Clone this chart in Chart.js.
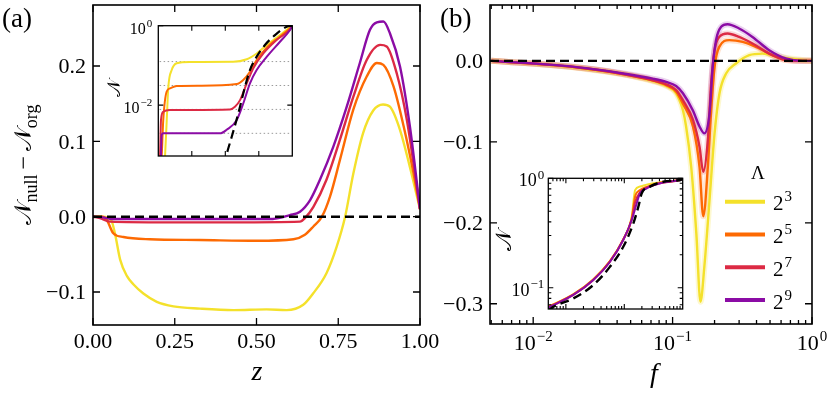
<!DOCTYPE html>
<html>
<head>
<meta charset="utf-8">
<script src="https://cdn.jsdelivr.net/npm/chart.js@4.4.1/dist/chart.umd.min.js"></script>
<style>
  body { margin: 0; background: #fff; }
  #wrap { position: relative; width: 830px; height: 394px; overflow: hidden; background: #fff; }
  canvas { position: absolute; }
</style>
</head>
<body>
<div id="wrap">
  <canvas id="mainA" width="445" height="394" style="left:0;top:0"></canvas>
  <canvas id="mainB" width="405" height="394" style="left:425px;top:0"></canvas>
  <canvas id="insetA" width="200" height="160" style="left:100px;top:10px"></canvas>
  <canvas id="insetB" width="210" height="160" style="left:480px;top:160px"></canvas>
</div>
<script>
// series: Lambda = 2^3, 2^5, 2^7, 2^9
const lambdaExp = ["3", "5", "7", "9"];
const colors = ["#f4e12b", "#fd6a03", "#dc2a44", "#8b0ca5"];
const bands = ["rgba(244,225,43,0.22)", "rgba(253,106,3,0.18)", "rgba(220,42,68,0.18)", "rgba(139,12,165,0.18)"];

// (a) N_null - N_org vs z
const aZ3 = [0, 0.03, 0.055, 0.067, 0.083, 0.104, 0.124, 0.154, 0.195, 0.246, 0.327, 0.429, 0.531, 0.592, 0.643, 0.673, 0.714, 0.745, 0.771, 0.796, 0.826, 0.857, 0.887, 0.908, 0.939, 0.969, 1.0];
const aD3 = [0, 0, -0.004, -0.022, -0.057, -0.079, -0.090, -0.102, -0.113, -0.119, -0.122, -0.124, -0.123, -0.124, -0.117, -0.102, -0.075, -0.040, 0, 0.057, 0.111, 0.141, 0.149, 0.146, 0.115, 0.066, 0.01];
const aZ5 = [0, 0.03, 0.042, 0.062, 0.093, 0.174, 0.327, 0.501, 0.613, 0.648, 0.674, 0.700, 0.725, 0.755, 0.796, 0.837, 0.868, 0.888, 0.919, 0.950, 0.980, 1.0];
const aD5 = [0, 0, -0.004, -0.022, -0.027, -0.030, -0.031, -0.032, -0.030, -0.024, -0.013, 0, 0.027, 0.075, 0.142, 0.186, 0.204, 0.2015, 0.173, 0.120, 0.058, 0.01];
const aZ7 = [0, 0.021, 0.052, 0.225, 0.429, 0.633, 0.648, 0.674, 0.714, 0.755, 0.796, 0.837, 0.878, 0.898, 0.929, 0.960, 1.0];
const aD7 = [0, -0.002, -0.0066, -0.0075, -0.0075, -0.0066, -0.002, 0.013, 0.049, 0.102, 0.159, 0.208, 0.228, 0.226, 0.190, 0.128, 0.01];
const aZ9 = [0, 0.03, 0.06, 0.3, 0.55, 0.602, 0.633, 0.664, 0.694, 0.735, 0.776, 0.816, 0.847, 0.868, 0.888, 0.908, 0.939, 0.969, 1.0];
const aD9 = [0, -0.001, -0.003, -0.003, -0.003, 0.002, 0.0066, 0.022, 0.049, 0.093, 0.146, 0.204, 0.248, 0.258, 0.259, 0.2435, 0.199, 0.120, 0.01];
const aXTicks = [0, 0.25, 0.5, 0.75, 1];
const aXLabels = ["0.00", "0.25", "0.50", "0.75", "1.00"];
const aYTicks = [-0.1, 0, 0.1, 0.2];
const aYLabels = ["\u22120.1", "0.0", "0.1", "0.2"];

// (a) inset: N vs z (log)
const iaZ3 = [0.045, 0.05, 0.063, 0.075, 0.1, 0.137, 0.236, 0.56, 0.66, 0.734, 0.81, 0.908, 0.983, 1.0];
const iaN3 = [0.0003, 0.0005, 0.0042, 0.029, 0.0766, 0.113, 0.122, 0.123, 0.143, 0.2, 0.327, 0.58, 0.91, 1.0];
const iaZ5 = [0.02, 0.025, 0.037, 0.062, 0.087, 0.137, 0.31, 0.585, 0.634, 0.684, 0.734, 0.81, 0.908, 0.983, 1.0];
const iaN5 = [0.0003, 0.0005, 0.0042, 0.0218, 0.0264, 0.0303, 0.031, 0.034, 0.043, 0.0695, 0.137, 0.285, 0.53, 0.86, 1.0];
const iaZ7 = [0.008, 0.0127, 0.02, 0.037, 0.087, 0.535, 0.572, 0.61, 0.66, 0.709, 0.784, 0.883, 0.983, 1.0];
const iaN7 = [0.0003, 0.0005, 0.0042, 0.0068, 0.0075, 0.0078, 0.0091, 0.0134, 0.0354, 0.0845, 0.2, 0.436, 0.81, 1.0];
const iaZ9 = [0.015, 0.02, 0.025, 0.037, 0.46, 0.51, 0.585, 0.634, 0.684, 0.734, 0.81, 0.908, 0.983, 1.0];
const iaN9 = [0.0003, 0.0005, 0.00177, 0.00195, 0.00195, 0.0024, 0.0042, 0.011, 0.0354, 0.0766, 0.166, 0.395, 0.78, 1.0];
const iaZorg = [0.49, 0.505, 0.548, 0.597, 0.647, 0.684, 0.734, 0.796, 0.871, 0.958, 1.0];
const iaNorg = [0.0003, 0.0005, 0.0016, 0.0062, 0.029, 0.0766, 0.166, 0.327, 0.58, 0.94, 1.0];
const iaLevels = [1 / 8, 1 / 32, 1 / 128, 1 / 512];
const iaLevelZ = [0.01, 0.985];
const iaXTicks = [0.25, 0.5, 0.75];
const iaYTicks = [0.01, 1];
const iaYLabels = ["10^\u22122", "10^0"];

// (b) N_null - N_org vs f
const bF3 = [0.005, 0.014, 0.024, 0.042, 0.072, 0.090, 0.106, 0.1186, 0.125, 0.136, 0.148, 0.1585, 0.169, 0.184, 0.2, 0.217, 0.242, 0.285, 0.355, 0.44, 0.58, 0.853, 1.0];
const bD3 = [0, -0.0055, -0.010, -0.016, -0.025, -0.031, -0.040, -0.061, -0.081, -0.131, -0.213, -0.2975, -0.254, -0.172, -0.0896, -0.040, -0.0156, -0.0032, 0.007, 0.009, 0.005, 0.001, 0];
const bF5 = [0.005, 0.014, 0.024, 0.042, 0.072, 0.090, 0.106, 0.1186, 0.14, 0.156, 0.166, 0.179, 0.189, 0.2, 0.216, 0.255, 0.318, 0.396, 0.52, 0.648, 0.853, 1.0];
const bD5 = [0, -0.0053, -0.0095, -0.0156, -0.024, -0.030, -0.038, -0.053, -0.081, -0.131, -0.192, -0.131, -0.061, -0.0074, 0.0173, 0.0256, 0.0235, 0.0173, 0.007, 0.001, 0, 0];
const bF7 = [0.005, 0.014, 0.024, 0.042, 0.072, 0.090, 0.106, 0.1186, 0.14, 0.156, 0.166, 0.179, 0.189, 0.2, 0.216, 0.248, 0.30, 0.374, 0.493, 0.648, 0.853, 1.0];
const bD7 = [0, -0.0053, -0.0095, -0.0156, -0.024, -0.029, -0.036, -0.0486, -0.073, -0.106, -0.137, -0.098, -0.028, 0.013, 0.0296, 0.0338, 0.0296, 0.0215, 0.009, 0.0012, 0, 0];
const bF9 = [0.005, 0.014, 0.024, 0.042, 0.072, 0.090, 0.106, 0.1186, 0.1396, 0.156, 0.169, 0.184, 0.194, 0.205, 0.223, 0.248, 0.30, 0.374, 0.493, 0.648, 0.853, 1.0];
const bD9 = [0, -0.005, -0.009, -0.015, -0.022, -0.026, -0.031, -0.040, -0.061, -0.081, -0.0896, -0.065, -0.0074, 0.0256, 0.042, 0.0453, 0.040, 0.0296, 0.0132, 0.003, 0, 0];
const bXTicks = [0.01, 0.1, 1];
const bXLabels = ["10^\u22122", "10^\u22121", "10^0"];
const bYTicks = [-0.3, -0.2, -0.1, 0];
const bYLabels = ["\u22120.3", "\u22120.2", "\u22120.1", "0.0"];

// (b) inset: N vs f (log-log)
const ibF3 = [0.005, 0.0134, 0.0295, 0.057, 0.096, 0.134, 0.153, 0.186, 0.25, 0.41, 0.9, 1.0];
const ibN3 = [0.067, 0.087, 0.12, 0.176, 0.278, 0.446, 0.78, 0.84, 0.88, 0.92, 0.965, 0.985];
const ibF5 = [0.005, 0.0134, 0.0295, 0.057, 0.096, 0.134, 0.153, 0.186, 0.25, 0.41, 0.9, 1.0];
const ibN5 = [0.067, 0.087, 0.119, 0.175, 0.276, 0.43, 0.68, 0.78, 0.84, 0.91, 0.965, 0.985];
const ibF7 = [0.005, 0.0134, 0.0295, 0.057, 0.096, 0.134, 0.153, 0.186, 0.242, 0.41, 0.9, 1.0];
const ibN7 = [0.066, 0.086, 0.118, 0.174, 0.275, 0.42, 0.6, 0.75, 0.82, 0.90, 0.965, 0.985];
const ibF9 = [0.005, 0.0134, 0.0295, 0.057, 0.096, 0.134, 0.163, 0.186, 0.242, 0.41, 0.9, 1.0];
const ibN9 = [0.066, 0.086, 0.118, 0.173, 0.273, 0.416, 0.59, 0.73, 0.81, 0.90, 0.965, 0.985];
const ibForg = [0.005, 0.0061, 0.0134, 0.0295, 0.057, 0.096, 0.143, 0.174, 0.199, 0.275, 0.466, 0.9, 1.0];
const ibNorg = [0.062, 0.067, 0.080, 0.106, 0.156, 0.237, 0.388, 0.55, 0.73, 0.84, 0.93, 0.965, 0.985];
const ibYTicks = [0.1, 1];
const ibYLabels = ["10^\u22121", "10^0"];

const SERIF = '"Liberation Serif", "Times New Roman", "DejaVu Serif", serif';
const CAL = '𝒩';

const logMinor = (lo, hi) => {
  const out = [];
  for (let d = 0.001; d < hi; d *= 10) {
    for (let k = 2; k <= 9; k++) {
      const v = k * d;
      if (v > lo * 1.001 && v < hi * 0.999) out.push(v);
    }
  }
  return out;
};

function drawTex(ctx, str, x, y, size, align, style) {
  const [base, sup] = str.split('^');
  const st = style ? style + ' ' : '';
  const f1 = st + size + 'px ' + SERIF;
  const f2 = st + Math.round(size * 0.7) + 'px ' + SERIF;
  ctx.font = f1;
  const wb = ctx.measureText(base).width;
  let ws = 0;
  if (sup) { ctx.font = f2; ws = ctx.measureText(sup).width + 1; }
  const w = wb + ws;
  const x0 = align === 'center' ? x - w / 2 : align === 'right' ? x - w : x;
  ctx.textAlign = 'left';
  ctx.textBaseline = 'alphabetic';
  ctx.font = f1;
  ctx.fillText(base, x0, y);
  if (sup) { ctx.font = f2; ctx.fillText(sup, x0 + wb + 1, y - size * 0.42); }
  return w;
}

// frame with inward ticks on all four sides, labels outside
function makeAxes(c) {
  return {
    id: 'axesBox',
    beforeDatasetsDraw(chart) {
      if (!c.fill) return;
      const { ctx, chartArea: a } = chart;
      ctx.save();
      ctx.fillStyle = c.fill;
      ctx.fillRect(a.left, a.top, a.width, a.height);
      ctx.restore();
    },
    afterDatasetsDraw(chart) {
      const { ctx, chartArea: a, scales: { x, y } } = chart;
      ctx.save();
      ctx.strokeStyle = '#000';
      ctx.fillStyle = '#000';
      ctx.lineWidth = c.tickWidth;
      ctx.beginPath();
      const xt = (vals, len) => vals.forEach(v => {
        const p = x.getPixelForValue(v);
        ctx.moveTo(p, a.bottom); ctx.lineTo(p, a.bottom - len);
        ctx.moveTo(p, a.top); ctx.lineTo(p, a.top + len);
      });
      const yt = (vals, len) => vals.forEach(v => {
        const p = y.getPixelForValue(v);
        ctx.moveTo(a.left, p); ctx.lineTo(a.left + len, p);
        ctx.moveTo(a.right, p); ctx.lineTo(a.right - len, p);
      });
      xt(c.xMajor || [], c.major);
      xt(c.xMinor || [], c.minor);
      yt(c.yMajor || [], c.major);
      yt(c.yMinor || [], c.minor);
      ctx.stroke();
      ctx.lineWidth = c.frameWidth;
      ctx.strokeRect(a.left, a.top, a.width, a.height);
      (c.xLabels || []).forEach((t, i) =>
        drawTex(ctx, t, x.getPixelForValue(c.xMajor[i]), a.bottom + c.xGap, c.size, 'center'));
      (c.yLabels || []).forEach((t, i) =>
        drawTex(ctx, t, a.left - c.yGap, y.getPixelForValue(c.yMajor[i]) + c.size * c.yShift, c.size, 'right'));
      ctx.restore();
    }
  };
}

const pts = (xs, ys) => xs.map((v, i) => ({ x: v, y: ys[i] }));
const curve = (xs, ys, color, order, extra) => Object.assign({
  data: pts(xs, ys), borderColor: color, borderWidth: 2.4, pointRadius: 0,
  cubicInterpolationMode: 'monotone', fill: false, order
}, extra || {});
const dashed = (xs, ys, w) => curve(xs, ys, '#000', 0, { borderDash: [9, 5], borderWidth: w, cubicInterpolationMode: 'monotone' });

function baseOptions(xs, ys, pad) {
  return {
    responsive: false, animation: false, events: [],
    layout: { padding: pad },
    plugins: { legend: { display: false }, tooltip: { enabled: false } },
    scales: { x: Object.assign({ display: false }, xs), y: Object.assign({ display: false }, ys) }
  };
}

function rotatedLabel(ctx, cx, cy, parts) {
  // parts: [text, size, dy] drawn along a vertical baseline
  ctx.save();
  ctx.translate(cx, cy);
  ctx.rotate(-Math.PI / 2);
  ctx.textBaseline = 'alphabetic';
  ctx.textAlign = 'left';
  let w = 0;
  parts.forEach(p => { ctx.font = p[1] + 'px ' + SERIF; w += ctx.measureText(p[0]).width; });
  let xx = -w / 2;
  parts.forEach(p => {
    ctx.font = p[1] + 'px ' + SERIF;
    ctx.fillText(p[0], xx, p[2]);
    xx += ctx.measureText(p[0]).width;
  });
  ctx.restore();
}

// ---- panel (a)
new Chart(document.getElementById('mainA'), {
  type: 'line',
  data: {
    datasets: [
      dashed([0, 1], [0, 0], 2.4),
      curve(aZ9, aD9, colors[3], 1),
      curve(aZ7, aD7, colors[2], 2),
      curve(aZ5, aD5, colors[1], 3),
      curve(aZ3, aD3, colors[0], 4)
    ]
  },
  options: baseOptions({ type: 'linear', min: 0, max: 1 }, { type: 'linear', min: -0.1438, max: 0.281 },
    { left: 93, top: 5, right: 25, bottom: 69 }),
  plugins: [
    makeAxes({ xMajor: aXTicks, xLabels: aXLabels, yMajor: aYTicks, yLabels: aYLabels,
      major: 7, minor: 4, tickWidth: 1.3, frameWidth: 1.6, size: 22, xGap: 23, yGap: 7, yShift: 0.33 }),
    {
      id: 'textA',
      afterDraw(chart) {
        const ctx = chart.ctx;
        ctx.save();
        ctx.fillStyle = '#000';
        drawTex(ctx, '(a)', 2, 27, 27, 'left');
        drawTex(ctx, 'z', 257, 380, 28, 'center', 'italic');
        rotatedLabel(ctx, 31, 165, [[CAL, 24, 0], ['null', 18, 6], ['\u2009\u2212\u2009', 24, 0], [CAL, 24, 0], ['org', 18, 6]]);
        ctx.restore();
      }
    }
  ]
});

// ---- panel (b)
const bLegend = {
  id: 'legendB',
  afterDraw(chart) {
    const ctx = chart.ctx;
    ctx.save();
    ctx.fillStyle = '#000';
    drawTex(ctx, '\u039b', 333, 179, 19, 'center');
    lambdaExp.forEach((e, i) => {
      const yy = 201.7 + i * 32.8;
      ctx.strokeStyle = colors[i];
      ctx.lineWidth = 4;
      ctx.beginPath(); ctx.moveTo(300, yy); ctx.lineTo(340, yy); ctx.stroke();
      drawTex(ctx, '2^' + e, 348, yy + 8.5, 21, 'left');
    });
    drawTex(ctx, '(b)', 15, 27, 27, 'left');
    drawTex(ctx, 'f', 229, 382, 28, 'center', 'italic');
    ctx.restore();
  }
};

const band = (xs, ys, i) => curve(xs, ys, bands[i], 10 + i, { borderWidth: 6 });

new Chart(document.getElementById('mainB'), {
  type: 'line',
  data: {
    datasets: [
      dashed([0.0049, 1], [0, 0], 2.4),
      curve(bF9, bD9, colors[3], 1),
      curve(bF7, bD7, colors[2], 2),
      curve(bF5, bD5, colors[1], 3),
      curve(bF3, bD3, colors[0], 4),
      band(bF3, bD3, 0), band(bF5, bD5, 1), band(bF7, bD7, 2), band(bF9, bD9, 3)
    ]
  },
  options: baseOptions({ type: 'logarithmic', min: 0.0049, max: 1 }, { type: 'linear', min: -0.325, max: 0.069 },
    { left: 65, top: 5, right: 18, bottom: 70 }),
  plugins: [
    makeAxes({ xMajor: bXTicks, xMinor: logMinor(0.0049, 1), xLabels: bXLabels, yMajor: bYTicks, yLabels: bYLabels,
      major: 7, minor: 4, tickWidth: 1.3, frameWidth: 1.6, size: 22, xGap: 26, yGap: 7, yShift: 0.33 }),
    bLegend
  ]
});

// ---- inset of (a)
new Chart(document.getElementById('insetA'), {
  type: 'line',
  data: {
    datasets: [
      dashed(iaZorg, iaNorg, 2.2),
      curve(iaZ9, iaN9, colors[3], 1, { borderWidth: 2 }),
      curve(iaZ7, iaN7, colors[2], 2, { borderWidth: 2 }),
      curve(iaZ5, iaN5, colors[1], 3, { borderWidth: 2 }),
      curve(iaZ3, iaN3, colors[0], 4, { borderWidth: 2 })
    ].concat(iaLevels.map(l => curve(iaLevelZ, [l, l], '#9a9a9a', 5, { borderWidth: 1, borderDash: [1.5, 2.5] })))
  },
  options: baseOptions({ type: 'linear', min: 0, max: 1 }, { type: 'logarithmic', min: 0.000525, max: 1 },
    { left: 58.3, top: 15.7, right: 7.7, bottom: 14 }),
  plugins: [
    makeAxes({ fill: '#fff', xMajor: iaXTicks, yMajor: iaYTicks, yLabels: iaYLabels,
      major: 5, minor: 3, tickWidth: 1.1, frameWidth: 1.3, size: 16, xGap: 0, yGap: 6, yShift: 0.5 }),
    {
      id: 'labIA',
      afterDraw(chart) {
        const ctx = chart.ctx;
        ctx.save(); ctx.fillStyle = '#000';
        rotatedLabel(ctx, 20, 78, [[CAL, 18, 0]]);
        ctx.restore();
      }
    }
  ]
});

// ---- inset of (b)
new Chart(document.getElementById('insetB'), {
  type: 'line',
  data: {
    datasets: [
      dashed(ibForg, ibNorg, 2.4),
      curve(ibF9, ibN9, colors[3], 1, { borderWidth: 2 }),
      curve(ibF7, ibN7, colors[2], 2, { borderWidth: 2 }),
      curve(ibF5, ibN5, colors[1], 3, { borderWidth: 2 }),
      curve(ibF3, ibN3, colors[0], 4, { borderWidth: 2 })
    ]
  },
  options: baseOptions({ type: 'logarithmic', min: 0.005, max: 1 }, { type: 'logarithmic', min: 0.064, max: 1 },
    { left: 68.3, top: 18.3, right: 7.3, bottom: 11 }),
  plugins: [
    makeAxes({ fill: '#fff', xMajor: [0.01, 0.1], xMinor: logMinor(0.005, 1), yMajor: ibYTicks, yMinor: logMinor(0.064, 1), yLabels: ibYLabels,
      major: 5, minor: 3, tickWidth: 1.1, frameWidth: 1.3, size: 18, xGap: 0, yGap: 4, yShift: 0.45 }),
    {
      id: 'labIB',
      afterDraw(chart) {
        const ctx = chart.ctx;
        ctx.save(); ctx.fillStyle = '#000';
        rotatedLabel(ctx, 31, 80, [[CAL, 22, 0]]);
        ctx.restore();
      }
    }
  ]
});
</script>
</body>
</html>
